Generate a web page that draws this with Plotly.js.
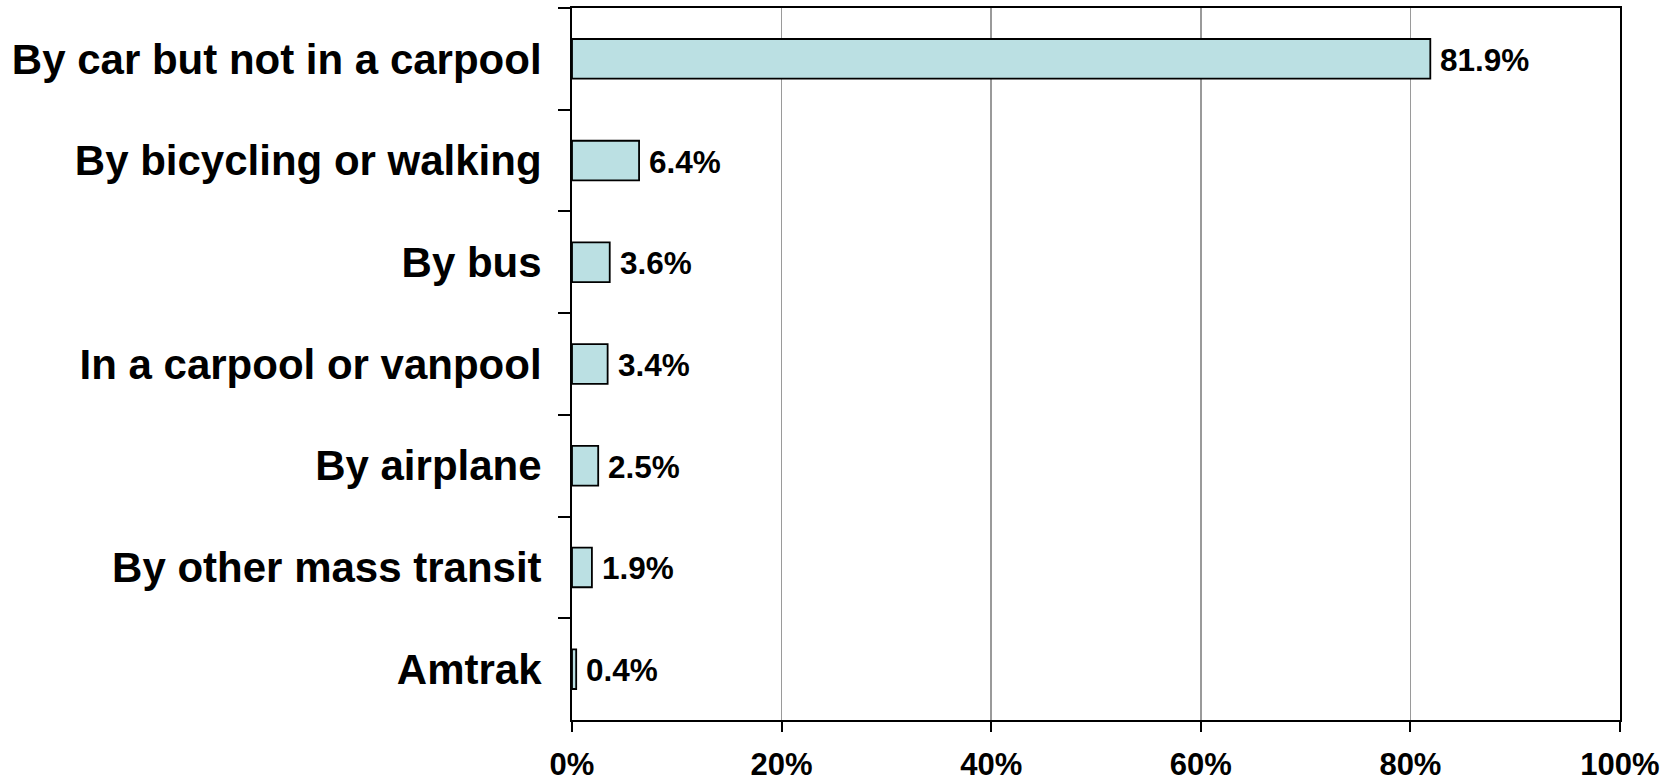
<!DOCTYPE html>
<html>
<head>
<meta charset="utf-8">
<script src="https://cdn.plot.ly/plotly-3.0.1.min.js"></script>
<style>
  html, body { margin: 0; padding: 0; background: #fff; }
  #chart { width: 1678px; height: 784px; }
</style>
</head>
<body>
<div id="chart"></div>
<script>
const categories = [
  "By car but not in a carpool",
  "By bicycling or walking",
  "By bus",
  "In a carpool or vanpool",
  "By airplane",
  "By other mass transit",
  "Amtrak"
];
const values = [81.9, 6.4, 3.6, 3.4, 2.5, 1.9, 0.4];
const valueLabels = ["81.9%", "6.4%", "3.6%", "3.4%", "2.5%", "1.9%", "0.4%"];
const xTickValues = [0, 20, 40, 60, 80, 100];
const xTickLabels = ["0%", "20%", "40%", "60%", "80%", "100%"];

const FONT = "Liberation Sans, Arial, Helvetica, sans-serif";

const trace = {
  type: "bar",
  orientation: "h",
  x: values,
  y: categories,
  marker: { color: "#BBE0E3", line: { color: "#000", width: 1.8 } },
  hoverinfo: "none"
};

const annotations = values.map((v, i) => ({
  x: v, y: categories[i], xref: "x", yref: "y",
  text: valueLabels[i], showarrow: false,
  xanchor: "left", yanchor: "middle", xshift: 8, yshift: -1,
  font: { family: FONT, size: 31.5, color: "#000", weight: "bold" }
}));

const layout = {
  width: 1678, height: 784,
  margin: { l: 572, r: 58, t: 8, b: 64, pad: 0 },
  paper_bgcolor: "#fff", plot_bgcolor: "#fff",
  showlegend: false,
  bargap: 0.61,
  font: { family: FONT, color: "#000" },
  xaxis: {
    range: [0, 100],
    tickvals: xTickValues, ticktext: xTickLabels,
    showgrid: true, gridcolor: "#9a9a9a", gridwidth: 1.5,
    zeroline: false,
    showline: true, linecolor: "#000", linewidth: 2, mirror: true,
    ticks: "outside", ticklen: 10, tickwidth: 2, tickcolor: "#000",
    ticklabelstandoff: 6,
    tickfont: { family: FONT, size: 31, color: "#000", weight: "bold" },
    fixedrange: true
  },
  yaxis: {
    type: "category",
    categoryorder: "array", categoryarray: categories,
    autorange: "reversed",
    tickson: "boundaries",
    showgrid: false, zeroline: false,
    showline: true, linecolor: "#000", linewidth: 2, mirror: true,
    ticks: "outside", ticklen: 12, tickwidth: 2, tickcolor: "#000",
    ticklabelstandoff: 20,
    tickfont: { family: FONT, size: 42, color: "#000", weight: "bold" },
    fixedrange: true
  },
  annotations: annotations
};

Plotly.newPlot("chart", [trace], layout, { displayModeBar: false, staticPlot: true });
</script>
</body>
</html>
